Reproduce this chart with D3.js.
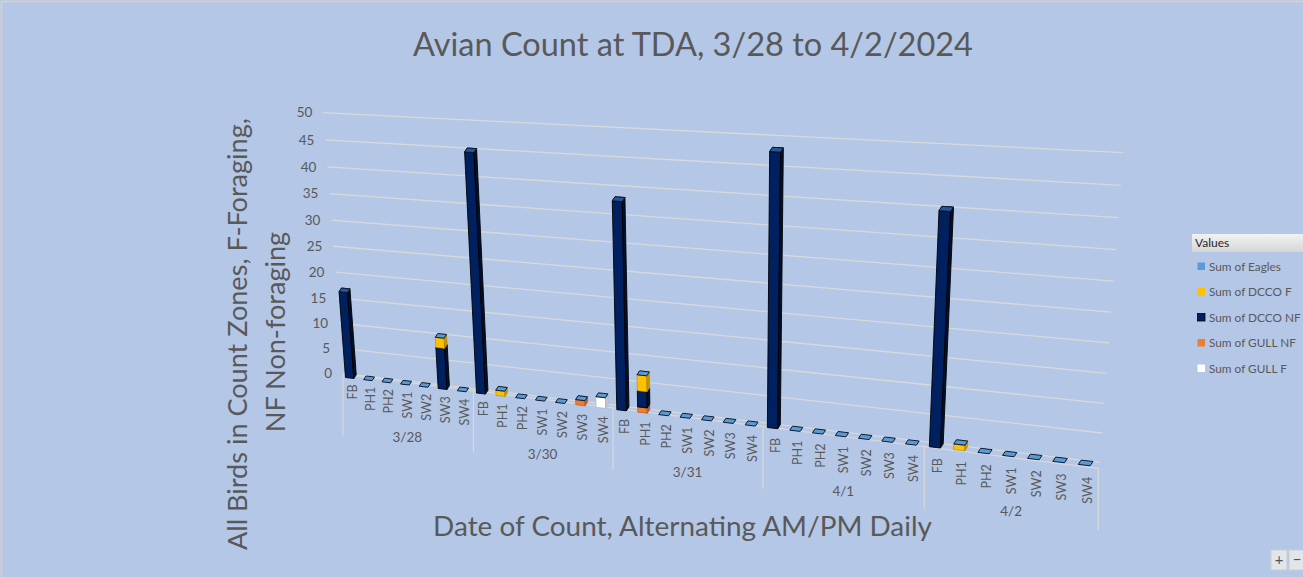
<!DOCTYPE html>
<html>
<head>
<meta charset="utf-8">
<script src="https://cdn.jsdelivr.net/npm/d3@7"></script>
<style>
  body { margin: 0; background: #B4C7E7; overflow: hidden; }
  svg { display: block; font-family: Lato, "Noto Sans", sans-serif; }
</style>
</head>
<body>
<script>
// zones counted each day, and the count days
const zones = ["FB", "PH1", "PH2", "SW1", "SW2", "SW3", "SW4"];
const dates = ["3/28", "3/30", "3/31", "4/1", "4/2"];
const yTicks = [0, 5, 10, 15, 20, 25, 30, 35, 40, 45, 50];

// one value per zone, day after day (3/28 FB..SW4, 3/30 FB..SW4, ...)
const eagles = [0, 0, 0, 0, 0, 0, 0,  0, 0, 0, 0, 0, 0, 0,  0, 0, 0, 0, 0, 0, 0,  0, 0, 0, 0, 0, 0, 0,  0, 0, 0, 0, 0, 0, 0];
const dccoF  = [0, 0, 0, 0, 0, 2, 0,  0, 1, 0, 0, 0, 0, 0,  0, 3, 0, 0, 0, 0, 0,  0, 0, 0, 0, 0, 0, 0,  0, 1, 0, 0, 0, 0, 0];
const dccoNF = [17, 0, 0, 0, 0, 8, 0, 45, 0, 0, 0, 0, 0, 0, 38, 3, 0, 0, 0, 0, 0, 48, 0, 0, 0, 0, 0, 0, 40, 0, 0, 0, 0, 0, 0];
const gullNF = [0, 0, 0, 0, 0, 0, 0,  0, 0, 0, 0, 0, 1, 0,  0, 1, 0, 0, 0, 0, 0,  0, 0, 0, 0, 0, 0, 0,  0, 0, 0, 0, 0, 0, 0];
const gullF  = [0, 0, 0, 0, 0, 0, 0,  0, 0, 0, 0, 0, 0, 2,  0, 0, 0, 0, 0, 0, 0,  0, 0, 0, 0, 0, 0, 0,  0, 0, 0, 0, 0, 0, 0];

const seriesNames = ["Sum of Eagles", "Sum of DCCO F", "Sum of DCCO NF", "Sum of GULL NF", "Sum of GULL F"];
const seriesColors = ["#5B9BD5", "#FFC000", "#002060", "#ED7D31", "#FFFFFF"];

const W = 1303, H = 577;
const textColor = "#595959";
const gridColor = "#D9D9D9";

// category keys and a table for d3.stack
const cats = dates.flatMap(d => zones.map(z => d + " " + z));
const table = cats.map((c, i) => ({
  key: c,
  "Sum of Eagles": eagles[i],
  "Sum of DCCO F": dccoF[i],
  "Sum of DCCO NF": dccoNF[i],
  "Sum of GULL NF": gullNF[i],
  "Sum of GULL F": gullF[i]
}));
// bottom of the stack first
const stackOrder = seriesNames.slice().reverse();
const stacked = d3.stack().keys(stackOrder)(table);
const colorOf = d3.scaleOrdinal().domain(seriesNames).range(seriesColors);

const svg = d3.select("body").append("svg").attr("width", W).attr("height", H);
svg.append("rect").attr("width", W).attr("height", H).attr("fill", "#B4C7E7");
svg.append("path").attr("d", `M1.5,${H} L1.5,1.5 L${W},1.5`)
  .attr("fill", "none").attr("stroke", "#D0D0D0").attr("stroke-width", 2);

// the wall that holds the gridlines, as seen in perspective
const P00 = [343, 373.3], P10 = [1100, 462.3], P11 = [1123.3, 152.7], P01 = [323.3, 112.7];
function homography(p0, p1, p2, p3) {
  const [x0, y0] = p0, [x1, y1] = p1, [x2, y2] = p2, [x3, y3] = p3;
  const dx1 = x1 - x2, dy1 = y1 - y2, dx2 = x3 - x2, dy2 = y3 - y2;
  const dx3 = x0 - x1 + x2 - x3, dy3 = y0 - y1 + y2 - y3;
  const den = dx1 * dy2 - dx2 * dy1;
  const g = (dx3 * dy2 - dx2 * dy3) / den, h = (dx1 * dy3 - dx3 * dy1) / den;
  const a = x1 - x0 + g * x1, b = x3 - x0 + h * x3, c = x0;
  const d = y1 - y0 + g * y1, e = y3 - y0 + h * y3, f = y0;
  return (u, v) => {
    const w = g * u + h * v + 1;
    return [(a * u + b * v + c) / w, (d * u + e * v + f) / w, 1 / w];
  };
}
const proj = homography(P00, P10, P11, P01);

const xBand = d3.scaleBand().domain(cats).range([0, 1]).paddingInner(0.54).paddingOuter(0.27);
const yVal = d3.scaleLinear().domain([0, 50]).range([0, 1]);
const step = xBand.step();

// depth of a bar (back minus front), in px at the left end
const DB = [2.4, -3.6];
const back = (u, v) => proj(u, v);
const front = (u, v) => { const p = proj(u, v); return [p[0] - DB[0] * p[2], p[1] - DB[1] * p[2]]; };
const poly = pts => "M" + pts.map(p => p[0].toFixed(2) + "," + p[1].toFixed(2)).join("L") + "Z";

// gridlines
const grid = svg.append("g");
yTicks.forEach(t => {
  const a = proj(0, yVal(t)), b = proj(1, yVal(t));
  grid.append("line").attr("x1", a[0]).attr("y1", a[1]).attr("x2", b[0]).attr("y2", b[1])
    .attr("stroke", gridColor).attr("stroke-width", 1.3);
  grid.append("text").attr("x", a[0] - 11).attr("y", a[1]).attr("dy", "0.35em")
    .attr("text-anchor", "end").attr("font-size", 13.5).attr("fill", textColor).text(t);
});

// category axis: front edge line and group separators
const axisPt = u => { const p = proj(u, 0); return [p[0] - 1.7 * u, p[1] + 1 + 5 * u]; };
const axisG = svg.append("g");
const a0 = axisPt(0), a1 = axisPt(1);
axisG.append("line").attr("x1", a0[0]).attr("y1", a0[1]).attr("x2", a1[0]).attr("y2", a1[1])
  .attr("stroke", gridColor).attr("stroke-width", 1.2);
d3.range(dates.length + 1).forEach(gi => {
  const p = axisPt(gi * zones.length * step);
  axisG.append("line").attr("x1", p[0]).attr("y1", p[1]).attr("x2", p[0]).attr("y2", p[1] + 62)
    .attr("stroke", gridColor).attr("stroke-width", 1.2);
});

// zone labels
cats.forEach((c, i) => {
  const u = xBand(c) + xBand.bandwidth() / 2;
  const p = proj(u, 0);
  axisG.append("text")
    .attr("transform", `translate(${p[0] + 4.5},${p[1] + 10 + 6 * u}) rotate(-90)`)
    .attr("text-anchor", "end").attr("font-size", 12.5).attr("fill", textColor)
    .text(zones[i % zones.length]);
});
// date labels
dates.forEach((d, gi) => {
  const u = (gi * zones.length + zones.length / 2) * step;
  const p = proj(u, 0);
  axisG.append("text").attr("x", p[0]).attr("y", p[1] + 56 + 4 * u).attr("dy", "0.35em")
    .attr("text-anchor", "middle").attr("font-size", 13.5).attr("fill", textColor).text(d);
});

// stacked boxes
const bars = svg.append("g");
function box(u0, u1, v0, v1, color, drawBody, under) {
  const fill = d3.color(color);
  const dark = color === "#002060";
  const stroke = dark ? "#000" : fill.darker(1.2).formatHex();
  const sw = dark ? 0.9 : 0.5;
  if (drawBody) {
    bars.append("path").attr("d", poly([front(u0, v0), front(u1, v0), front(u1, v1), front(u0, v1)]))
      .attr("fill", fill.formatHex()).attr("stroke", stroke).attr("stroke-width", sw);
    bars.append("path").attr("d", poly([front(u1, v0), back(u1, v0), back(u1, v1), front(u1, v1)]))
      .attr("fill", dark ? "#00102e" : fill.darker(0.7).formatHex()).attr("stroke", stroke).attr("stroke-width", sw);
    bars.append("path").attr("d", poly([front(u0, v1), front(u1, v1), back(u1, v1), back(u0, v1)]))
      .attr("fill", fill.brighter(0.2).formatHex()).attr("stroke", stroke).attr("stroke-width", sw);
  } else {
    // zero-height cap of the top series; on the tall navy columns it reads much darker
    const capFill = under === "#002060" ? d3.interpolateRgb(color, under)(0.55) : color;
    bars.append("path").attr("d", poly([front(u0, v1), front(u1, v1), back(u1, v1), back(u0, v1)]))
      .attr("fill", capFill).attr("stroke", "#0b1a33").attr("stroke-width", 1);
  }
}
cats.forEach((c, i) => {
  const u0 = xBand(c), u1 = u0 + xBand.bandwidth();
  let under = null;
  stacked.forEach((layer, li) => {
    const [s0, s1] = layer[i];
    const top = li === stacked.length - 1;
    if (s1 > s0) { box(u0, u1, yVal(s0), yVal(s1), colorOf(layer.key), true); under = colorOf(layer.key); }
    if (top) box(u0, u1, yVal(s1), yVal(s1), colorOf(layer.key), false, under);
  });
});

// titles, fitted to the reference widths
function fit(sel, target) {
  const len = sel.node().getComputedTextLength();
  const fs = parseFloat(sel.attr("font-size"));
  sel.attr("font-size", (fs * target / len).toFixed(2));
  return fs * target / len;
}
const title = svg.append("text").attr("x", 693).attr("y", 56).attr("text-anchor", "middle")
  .attr("font-size", 30).attr("fill", textColor).text("Avian Count at TDA, 3/28 to 4/2/2024");
fit(title, 560);

const xTitle = svg.append("text").attr("x", 682.5).attr("y", 536).attr("text-anchor", "middle")
  .attr("font-size", 26).attr("fill", textColor).text("Date of Count, Alternating AM/PM Daily");
fit(xTitle, 499);

const yT1 = svg.append("text").attr("transform", "translate(247,334) rotate(-90)").attr("text-anchor", "middle")
  .attr("font-size", 26).attr("fill", textColor).text("All Birds in Count Zones, F-Foraging,");
const yfs = fit(yT1, 432);
svg.append("text").attr("transform", "translate(285,332) rotate(-90)").attr("text-anchor", "middle")
  .attr("font-size", yfs.toFixed(2)).attr("fill", textColor).text("NF Non-foraging");

// legend
const defs = svg.append("defs");
const grad = defs.append("linearGradient").attr("id", "hdr").attr("x1", 0).attr("y1", 0).attr("x2", 0).attr("y2", 1);
grad.append("stop").attr("offset", "0%").attr("stop-color", "#F2F2F2");
grad.append("stop").attr("offset", "100%").attr("stop-color", "#D6D6D6");
const leg = svg.append("g");
leg.append("rect").attr("x", 1192).attr("y", 234).attr("width", 115).attr("height", 18).attr("fill", "url(#hdr)");
leg.append("text").attr("x", 1195).attr("y", 247).attr("font-size", 12).attr("fill", "#262626").text("Values");
seriesNames.forEach((name, i) => {
  const y = 266.5 + i * 25.5;
  leg.append("rect").attr("x", 1197.5).attr("y", y - 4).attr("width", 7.5).attr("height", 7.5)
    .attr("fill", seriesColors[i]).attr("stroke", i === 2 ? "#000" : "none").attr("stroke-width", 0.8);
  leg.append("text").attr("x", 1209).attr("y", y).attr("dy", "0.35em")
    .attr("font-size", 11.8).attr("fill", textColor).text(name);
});

// zoom buttons in the corner
[["+", 1271], ["\u2212", 1289]].forEach(([s, x]) => {
  svg.append("rect").attr("x", x).attr("y", 550).attr("width", 16).attr("height", 20)
    .attr("fill", "#E2E5EA").attr("stroke", "#C9CDD3");
  svg.append("text").attr("x", x + 8).attr("y", 560).attr("dy", "0.35em").attr("text-anchor", "middle")
    .attr("font-size", 15).attr("fill", "#555").text(s);
});
</script>
</body>
</html>
